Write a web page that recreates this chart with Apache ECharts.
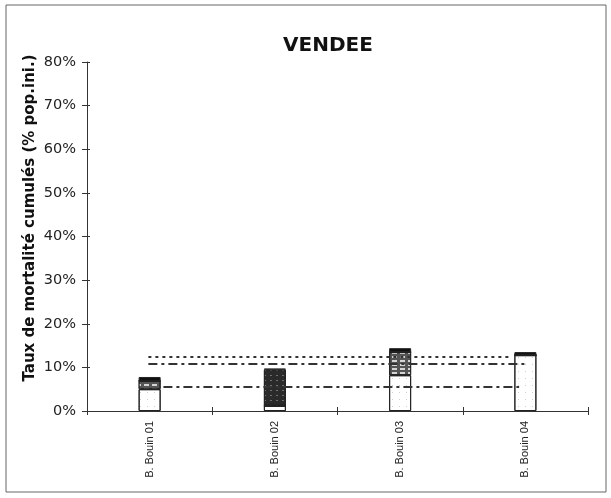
<!DOCTYPE html>
<html>
<head>
<meta charset="utf-8">
<script src="https://cdn.jsdelivr.net/npm/echarts@6/dist/echarts.min.js"></script>
<style>html,body{margin:0;padding:0;background:#fff}#c{width:611px;height:498px}</style>
</head>
<body>
<div id="c"></div>
<script>
var categories = ['B. Bouin 01', 'B. Bouin 02', 'B. Bouin 03', 'B. Bouin 04'];
var yTicks = [0, 10, 20, 30, 40, 50, 60, 70, 80];
// stacked segments (% of initial population)
var segLight = [5.0, 1.2, 8.2, 12.8];
var segGray  = [1.9, 0, 5.3, 0];
var segDark  = [0, 8.3, 0, 0];
var segBlack = [0.9, 0.2, 0.9, 0.7];
// reference lines: [xStart, xEnd] in category units (0..4), y value
var refDotted   = { x: [0.49, 3.39], y: 12.4 };
var refDashDot1 = { x: [0.49, 3.51], y: 10.8 };
var refDashDot2 = { x: [0.61, 3.45], y: 5.5 };

var chart = echarts.init(document.getElementById('c'), null, {renderer: 'canvas'});
var font = 'Liberation Sans, Arial, sans-serif';
var wide = 'DejaVu Sans, sans-serif';
function refLine(ref, dash) {
  return {
    type: 'line', xAxisIndex: 1, yAxisIndex: 0, showSymbol: false, silent: true,
    data: [[ref.x[0], ref.y], [ref.x[1], ref.y]],
    lineStyle: { color: '#333', width: 2, type: dash }, z: 5
  };
}
var border = { borderColor: '#222', borderWidth: 1 };
chart.setOption({
  animation: false,
  backgroundColor: '#fff',
  title: {
    text: 'VENDEE', left: 323, top: 31, textAlign: 'center',
    textStyle: { fontFamily: wide, fontSize: 20, fontWeight: 'bold', color: '#111' }
  },
  graphic: [
    { type: 'rect', shape: { x: 6, y: 5, width: 600, height: 487 }, style: { fill: 'none', stroke: '#666', lineWidth: 1 } },
    { type: 'text', x: 30, y: 218, rotation: Math.PI / 2,
      style: { text: 'Taux de mortalité cumulés (% pop.ini.)', fontFamily: wide, fontSize: 15, fontWeight: 'bold',
               fill: '#111', textAlign: 'center', textVerticalAlign: 'middle' } }
  ],
  grid: { left: 87, right: 23, top: 62, bottom: 87 },
  xAxis: [
    {
      type: 'category', data: categories, boundaryGap: true,
      axisLine: { lineStyle: { color: '#333', width: 1 } },
      axisTick: { show: true, alignWithLabel: false, length: 4, lineStyle: { color: '#333' } },
      axisLabel: { rotate: 90, fontFamily: font, fontSize: 11, color: '#222', margin: 10 }
    },
    { type: 'value', min: 0, max: 4, show: false },
    {
      type: 'category', data: categories, boundaryGap: true, position: 'bottom',
      axisLine: { show: false },
      axisTick: { show: true, inside: true, alignWithLabel: false, length: 4, lineStyle: { color: '#333' } },
      axisLabel: { show: false }
    }
  ],
  yAxis: [
    {
      type: 'value', min: 0, max: 80, interval: 10,
      axisLine: { show: true, lineStyle: { color: '#333', width: 1 } },
      axisTick: { show: true, length: 5, lineStyle: { color: '#333' } },
      splitLine: { show: false },
      axisLabel: { fontFamily: wide, fontSize: 14.5, color: '#222', margin: 11,
        formatter: function (v) { return yTicks.indexOf(v) >= 0 ? v + '%' : ''; } }
    },
    {
      type: 'value', min: 0, max: 80, interval: 10, position: 'left', offset: 0,
      axisLine: { show: false },
      axisTick: { show: true, inside: true, length: 3, lineStyle: { color: '#333' } },
      splitLine: { show: false },
      axisLabel: { show: false }
    }
  ],
  series: [
    { type: 'bar', stack: 's', barWidth: 22, data: segLight,
      itemStyle: Object.assign({ color: '#fff',
        decal: { symbol: 'rect', symbolSize: 1, color: 'rgba(160,160,160,0.5)', dashArrayX: [[1, 6]], dashArrayY: [1, 6] } }, border) },
    { type: 'bar', stack: 's', barWidth: 22, data: segGray,
      itemStyle: Object.assign({ color: '#555',
        decal: { symbol: 'rect', symbolSize: 1, color: 'rgba(255,255,255,0.75)', dashArrayX: [[5, 3]], dashArrayY: [2, 2] } }, border) },
    { type: 'bar', stack: 's', barWidth: 22, data: segDark,
      itemStyle: Object.assign({ color: '#2a2a2a',
        decal: { symbol: 'rect', symbolSize: 1, color: 'rgba(200,200,200,0.45)', dashArrayX: [[2, 4]], dashArrayY: [1, 4] } }, border) },
    { type: 'bar', stack: 's', barWidth: 22, data: segBlack,
      itemStyle: Object.assign({ color: '#111' }, border) },
    refLine(refDotted, [3, 4]),
    refLine(refDashDot1, [9, 4, 3, 4]),
    refLine(refDashDot2, [9, 4, 3, 4])
  ]
});
</script>
</body>
</html>
